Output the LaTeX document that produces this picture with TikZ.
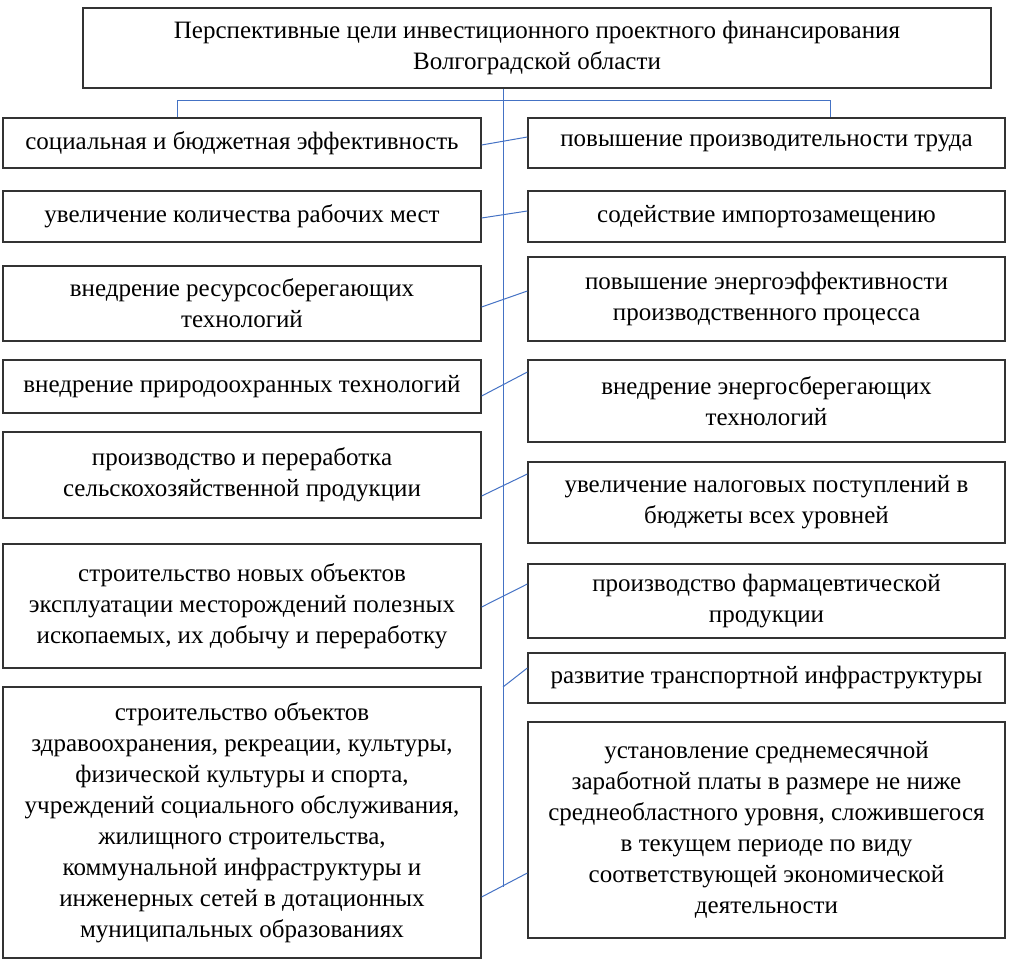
\documentclass[tikz,border=0pt]{standalone}
\usepackage{fontspec}
\setmainfont{Liberation Serif}
\definecolor{conn}{HTML}{4472C4}
\definecolor{boxline}{HTML}{333333}
\begin{document}
\begin{tikzpicture}[x=1pt,y=-1pt,
  box/.style={draw=boxline, line width=1.3pt, rectangle, inner sep=0pt, align=center,
    font=\fontsize{25}{31}\selectfont},
  lbox/.style={box, minimum width=478pt},
  rbox/.style={box, minimum width=477pt},
  link/.style={draw=conn, line width=1pt}]
\useasboundingbox (0,0) rectangle (1010,968);
\node[box, minimum width=908pt, minimum height=80pt] (T) at (537,48)
  {Перспективные цели инвестиционного проектного финансирования\\Волгоградской области};
% left column
\node[lbox, minimum height=50pt] (L1) at (242,143) {социальная и бюджетная эффективность};
\node[lbox, minimum height=51pt] (L2) at (242,216.5) {увеличение количества рабочих мест};
\node[lbox, minimum height=75pt] (L3) at (242,303.5) {внедрение ресурсосберегающих\\технологий};
\node[lbox, minimum height=53pt] (L4) at (242,386.5) {внедрение природоохранных технологий};
\node[lbox, minimum height=86pt] (L5) at (242,475) {производство и переработка\\сельскохозяйственной продукции};
\node[lbox, minimum height=124pt] (L6) at (242,606) {строительство новых объектов\\эксплуатации месторождений полезных\\ископаемых, их добычу и переработку};
\node[lbox, minimum height=271pt] (L7) at (242,822.5) {строительство объектов\\здравоохранения, рекреации, культуры,\\физической культуры и спорта,\\учреждений социального обслуживания,\\жилищного строительства,\\коммунальной инфраструктуры и\\инженерных сетей в дотационных\\муниципальных образованиях};
% right column
\node[rbox, minimum height=50pt] (R1) at (766.5,143) {повышение производительности труда};
\node[rbox, minimum height=51pt] (R2) at (766.5,216.5) {содействие импортозамещению};
\node[rbox, minimum height=84pt] (R3) at (766.5,299) {повышение энергоэффективности\\производственного процесса};
\node[rbox, minimum height=82pt] (R4) at (766.5,401) {внедрение энергосберегающих\\технологий};
\node[rbox, minimum height=81pt] (R5) at (766.5,502.5) {увеличение налоговых поступлений в\\бюджеты всех уровней};
\node[rbox, minimum height=74pt] (R6) at (766.5,601) {производство фармацевтической\\продукции};
\node[rbox, minimum height=50pt] (R7) at (766.5,678) {развитие транспортной инфраструктуры};
\node[rbox, minimum height=216pt] (R8) at (766.5,830) {установление среднемесячной\\заработной платы в размере не ниже\\среднеобластного уровня, сложившегося\\в текущем периоде по виду\\соответствующей экономической\\деятельности};
% connectors
\coordinate (vend) at (503,887);
\coordinate (v7) at (503,687);
\coordinate (hl) at (177,101);
\coordinate (hr) at (830,101);
\draw[link] (T.south -| vend) -- (vend);
\draw[link] (L1.north -| hl) -- (hl) -- (hr) -- (R1.north -| hr);
\draw[link] (L1.east |- 0,145) -- (R1.west |- 0,137);
\draw[link] (L2.east |- 0,218) -- (R2.west |- 0,211);
\draw[link] (L3.east |- 0,307) -- (R3.west |- 0,291);
\draw[link] (L4.east |- 0,396) -- (R4.west |- 0,372);
\draw[link] (L5.east |- 0,496) -- (R5.west |- 0,474);
\draw[link] (L6.east |- 0,607) -- (R6.west |- 0,584);
\draw[link] (v7) -- (R7.west |- 0,668);
\draw[link] (L7.east |- 0,897) -- (R8.west |- 0,873);
\end{tikzpicture}
\end{document}
